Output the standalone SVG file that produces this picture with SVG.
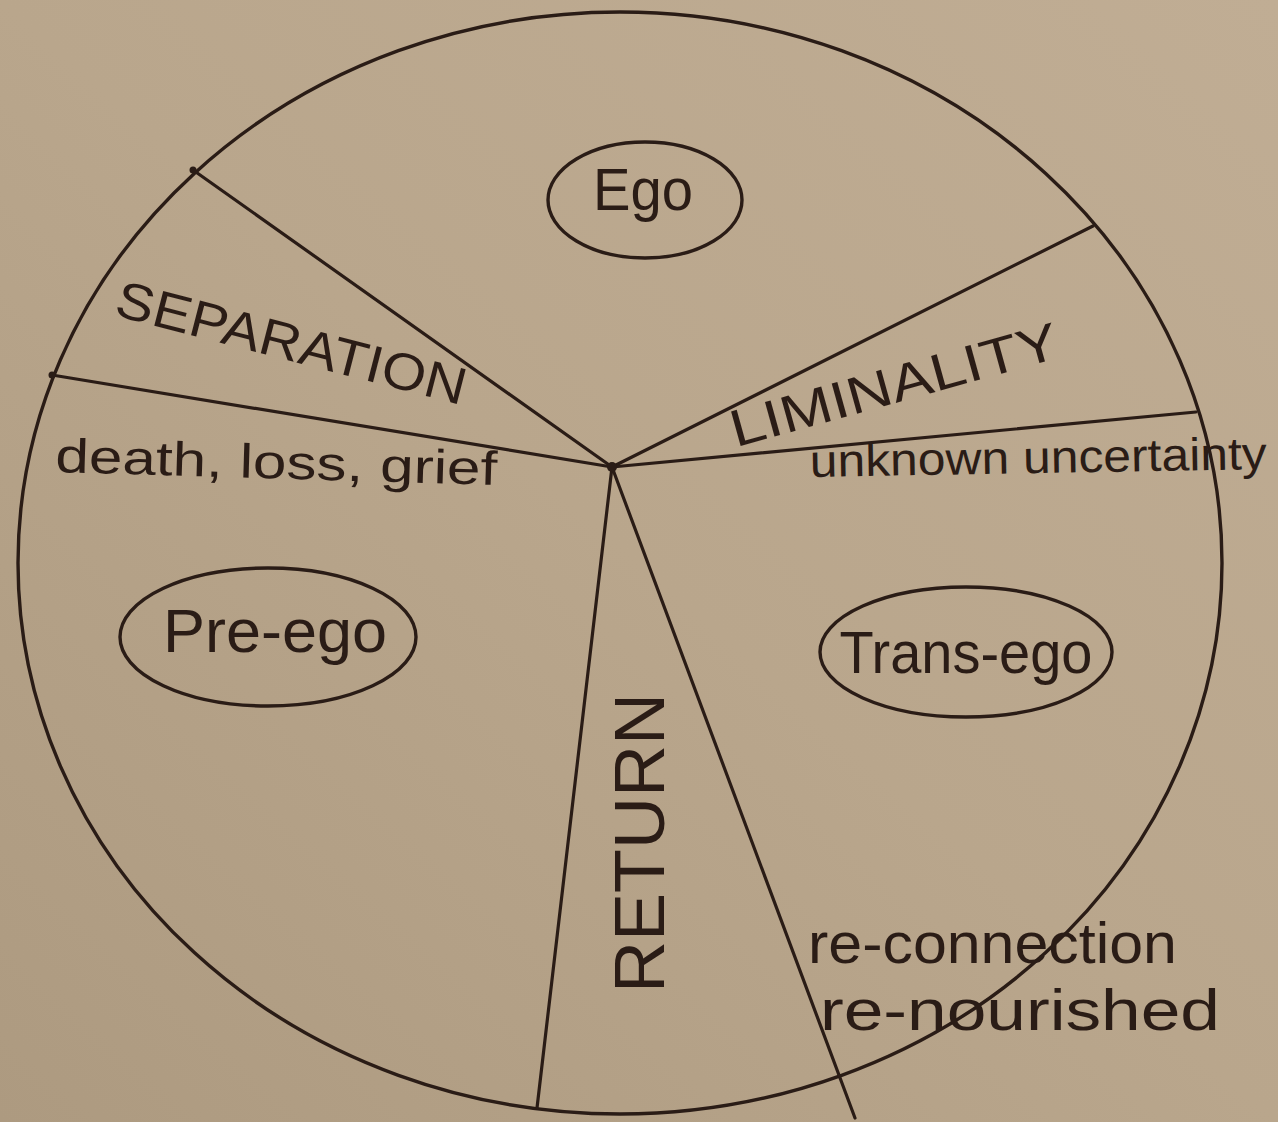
<svg xmlns="http://www.w3.org/2000/svg" width="1278" height="1122" viewBox="0 0 1278 1122">
  <defs>
    <linearGradient id="paper" x1="1" y1="0" x2="0" y2="1">
      <stop offset="0" stop-color="#c0ad94"/>
      <stop offset="0.5" stop-color="#b9a68c"/>
      <stop offset="1" stop-color="#ad9a80"/>
    </linearGradient>
  </defs>
  <style>
    .ink { fill: none; stroke: #2a1c16; stroke-width: 3.2; stroke-linecap: round; }
    .ring { fill: none; stroke: #2a1c16; stroke-width: 3.4; }
    .t { font-family: "Liberation Sans", "DejaVu Sans", sans-serif; fill: #2a1c16; }
  </style>
  <rect x="0" y="0" width="1278" height="1122" fill="url(#paper)"/>

  <g id="connectors">
    <ellipse class="ring" cx="620" cy="563" rx="602" ry="551"/>
    <line class="ink" x1="612" y1="467" x2="193" y2="170"/>
    <line class="ink" x1="612" y1="467" x2="52" y2="375"/>
    <line class="ink" x1="612" y1="467" x2="1093" y2="226"/>
    <line class="ink" x1="612" y1="467" x2="1196" y2="412"/>
    <line class="ink" x1="612" y1="467" x2="537" y2="1108"/>
    <line class="ink" x1="612" y1="467" x2="855" y2="1118"/>
    <circle cx="612" cy="467" r="5" fill="#2a1c16"/>
    <circle cx="193" cy="170" r="3.5" fill="#2a1c16"/>
    <circle cx="52" cy="375" r="3.5" fill="#2a1c16"/>
  </g>

  <g id="ego">
    <ellipse class="ring" cx="645" cy="200" rx="97" ry="58"/>
    <text class="t" x="643" y="210" font-size="60" text-anchor="middle" textLength="100" lengthAdjust="spacingAndGlyphs">Ego</text>
  </g>

  <g id="separation">
    <text class="t" transform="translate(287,360) rotate(14.5)" x="0" y="0" font-size="52" text-anchor="middle" textLength="360" lengthAdjust="spacingAndGlyphs">SEPARATION</text>
  </g>

  <g id="death">
    <text class="t" transform="translate(55,472) rotate(1.7)" x="0" y="0" font-size="48" textLength="442" lengthAdjust="spacingAndGlyphs">death, loss, grief</text>
  </g>

  <g id="liminality">
    <text class="t" transform="translate(899,402) rotate(-15.5)" x="0" y="0" font-size="52" text-anchor="middle" textLength="339" lengthAdjust="spacingAndGlyphs">LIMINALITY</text>
  </g>

  <g id="unknown">
    <text class="t" transform="translate(810,477) rotate(-1)" x="0" y="0" font-size="46" textLength="457" lengthAdjust="spacingAndGlyphs">unknown uncertainty</text>
  </g>

  <g id="pre-ego">
    <ellipse class="ring" cx="268" cy="637" rx="148" ry="69"/>
    <text class="t" x="275" y="652" font-size="62" text-anchor="middle" textLength="224" lengthAdjust="spacingAndGlyphs">Pre-ego</text>
  </g>

  <g id="trans-ego">
    <ellipse class="ring" cx="966" cy="652" rx="146" ry="65"/>
    <text class="t" x="966" y="673" font-size="60" text-anchor="middle" textLength="253" lengthAdjust="spacingAndGlyphs">Trans-ego</text>
  </g>

  <g id="return">
    <text class="t" transform="translate(664,843) rotate(-90)" x="0" y="0" font-size="70" text-anchor="middle" textLength="300" lengthAdjust="spacingAndGlyphs">RETURN</text>
  </g>

  <g id="reconnection">
    <text class="t" x="808" y="963" font-size="58" textLength="369" lengthAdjust="spacingAndGlyphs">re-connection</text>
    <text class="t" x="820" y="1030" font-size="58" textLength="400" lengthAdjust="spacingAndGlyphs">re-nourished</text>
  </g>
</svg>
